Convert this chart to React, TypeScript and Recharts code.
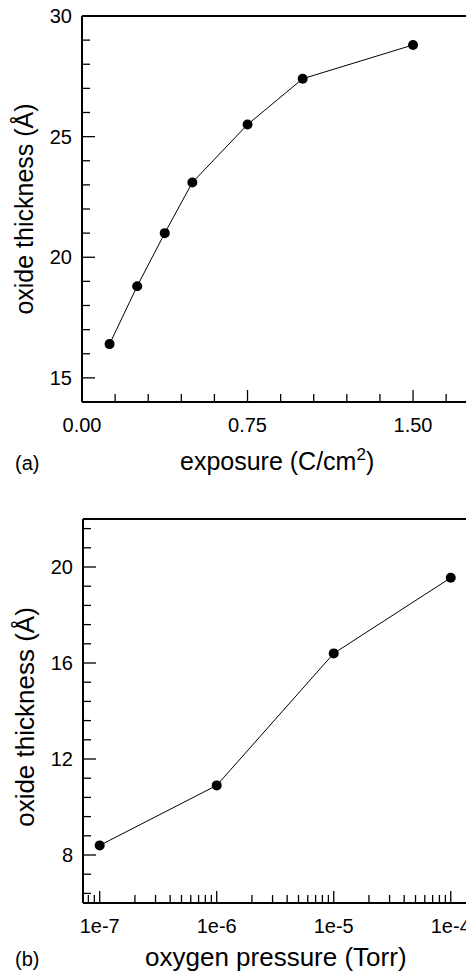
import React from 'react';
import { LineChart, Line, XAxis, YAxis, ReferenceLine } from 'recharts';

// Panel (a): oxide thickness vs exposure
const exposure = [0.125, 0.25, 0.375, 0.5, 0.75, 1.0, 1.5];
const thicknessA = [16.4, 18.8, 21.0, 23.1, 25.5, 27.4, 28.8];

// Panel (b): oxide thickness vs oxygen pressure
const pressure = [1e-7, 1e-6, 1e-5, 1e-4];
const thicknessB = [8.4, 10.9, 16.4, 19.55];

// Ticks panel (a)
const xTicksA = [0, 0.15, 0.3, 0.45, 0.6, 0.75, 0.9, 1.05, 1.2, 1.35, 1.5, 1.65];
const xMajorA = [0, 0.75, 1.5];
const xLabelsA = ['0.00', '0.75', '1.50'];
const yTicksA = [15, 16, 17, 18, 19, 20, 21, 22, 23, 24, 25, 26, 27, 28, 29, 30];
const yMajorA = [15, 20, 25, 30];
const yLabelsA = ['15', '20', '25', '30'];

// Ticks panel (b)
const xTicksB = [
  8e-8, 9e-8,
  1e-7, 2e-7, 3e-7, 4e-7, 5e-7, 6e-7, 7e-7, 8e-7, 9e-7,
  1e-6, 2e-6, 3e-6, 4e-6, 5e-6, 6e-6, 7e-6, 8e-6, 9e-6,
  1e-5, 2e-5, 3e-5, 4e-5, 5e-5, 6e-5, 7e-5, 8e-5, 9e-5,
  1e-4,
];
const xMajorB = [1e-7, 1e-6, 1e-5, 1e-4];
const xLabelsB = ['1e-7', '1e-6', '1e-5', '1e-4'];
const yTicksB = [6.4, 7.2, 8, 8.8, 9.6, 10.4, 11.2, 12, 12.8, 13.6, 14.4, 15.2, 16, 16.8, 17.6, 18.4, 19.2, 20, 20.8, 21.6];
const yMajorB = [8, 12, 16, 20];
const yLabelsB = ['8', '12', '16', '20'];

const dataA = exposure.map((x, i) => ({ x, y: thicknessA[i] }));
const dataB = pressure.map((x, i) => ({ x, y: thicknessB[i] }));

const FONT = '"Liberation Sans", Arial, Helvetica, sans-serif';

function findLabel(v: number, majors: number[], labels: string[]): string | null {
  for (let i = 0; i < majors.length; i++) {
    const m = majors[i];
    const same = m === 0 ? Math.abs(v) < 1e-9 : Math.abs(v / m - 1) < 1e-6;
    if (same) return labels[i];
  }
  return null;
}

const makeXTick = (majors: number[], labels: string[]) => (props: any) => {
  const { x, y, payload } = props;
  const lab = findLabel(payload.value, majors, labels);
  const len = lab !== null ? 12 : 8;
  return (
    <g>
      <line x1={x} y1={y} x2={x} y2={y - len} stroke="#000" strokeWidth={1.3} />
      {lab !== null && (
        <text x={x} y={y + 30} textAnchor="middle" fontSize={20} fontFamily={FONT} fill="#000">
          {lab}
        </text>
      )}
    </g>
  );
};

const makeYTick = (majors: number[], labels: string[]) => (props: any) => {
  const { x, y, payload } = props;
  const lab = findLabel(payload.value, majors, labels);
  const len = lab !== null ? 13 : 8;
  return (
    <g>
      <line x1={x} y1={y} x2={x + len} y2={y} stroke="#000" strokeWidth={1.3} />
      {lab !== null && (
        <text x={x - 10} y={y} dy="0.36em" textAnchor="end" fontSize={20} fontFamily={FONT} fill="#000">
          {lab}
        </text>
      )}
    </g>
  );
};

export default function App() {
  return (
    <div style={{ position: 'absolute', top: 0, left: 0, width: 466, height: 977, overflow: 'hidden', background: '#fff' }}>
      <div style={{ position: 'absolute', top: 0, left: 0 }}>
        <LineChart width={466} height={460} data={dataA} margin={{ top: 16, right: 0, left: 0, bottom: 0 }}>
          <XAxis
            dataKey="x"
            type="number"
            domain={[0, 1.74]}
            ticks={xTicksA}
            interval={0}
            height={58}
            tickSize={0}
            tickMargin={0}
            tickLine={false}
            axisLine={{ stroke: '#000', strokeWidth: 2 }}
            tick={makeXTick(xMajorA, xLabelsA)}
            allowDataOverflow
          />
          <YAxis
            dataKey="y"
            type="number"
            domain={[14, 30]}
            ticks={yTicksA}
            interval={0}
            width={82}
            tickSize={0}
            tickMargin={0}
            tickLine={false}
            axisLine={{ stroke: '#000', strokeWidth: 2 }}
            tick={makeYTick(yMajorA, yLabelsA)}
            allowDataOverflow
          />
          <ReferenceLine y={30} stroke="#000" strokeWidth={2} />
          <Line
            dataKey="y"
            stroke="#000"
            strokeWidth={1}
            dot={{ r: 5, fill: '#000', stroke: '#000', strokeWidth: 0 }}
            isAnimationActive={false}
          />
        </LineChart>
      </div>
      <div style={{ position: 'absolute', top: 503, left: 0 }}>
        <LineChart width={466} height={470} data={dataB} margin={{ top: 16, right: 0, left: 0, bottom: 0 }}>
          <XAxis
            dataKey="x"
            type="number"
            scale="log"
            domain={[7.2e-8, 1.35e-4]}
            ticks={xTicksB}
            interval={0}
            height={70}
            tickSize={0}
            tickMargin={0}
            tickLine={false}
            axisLine={{ stroke: '#000', strokeWidth: 2 }}
            tick={makeXTick(xMajorB, xLabelsB)}
            allowDataOverflow
          />
          <YAxis
            dataKey="y"
            type="number"
            domain={[6, 22]}
            ticks={yTicksB}
            interval={0}
            width={83}
            tickSize={0}
            tickMargin={0}
            tickLine={false}
            axisLine={{ stroke: '#000', strokeWidth: 2 }}
            tick={makeYTick(yMajorB, yLabelsB)}
            allowDataOverflow
          />
          <ReferenceLine y={22} stroke="#000" strokeWidth={2} />
          <Line
            dataKey="y"
            stroke="#000"
            strokeWidth={1}
            dot={{ r: 5, fill: '#000', stroke: '#000', strokeWidth: 0 }}
            isAnimationActive={false}
          />
        </LineChart>
      </div>
      <svg width={466} height={977} style={{ position: 'absolute', top: 0, left: 0, pointerEvents: 'none' }}>
        <text x={33} y={209} transform="rotate(-90 33 209)" textAnchor="middle" fontSize={25} fontFamily={FONT} fill="#000">
          oxide thickness (Å)
        </text>
        <text x={15} y={470} fontSize={20} fontFamily={FONT} fill="#000">(a)</text>
        <text x={180} y={470} fontSize={25} fontFamily={FONT} fill="#000">
          exposure (C/cm<tspan fontSize={17} dy={-10}>2</tspan><tspan dy={10}>)</tspan>
        </text>
        <text x={34} y={717} transform="rotate(-90 34 717)" textAnchor="middle" fontSize={26} fontFamily={FONT} fill="#000">
          oxide thickness (Å)
        </text>
        <text x={15} y={966} fontSize={20} fontFamily={FONT} fill="#000">(b)</text>
        <text x={145} y={966} fontSize={26} fontFamily={FONT} fill="#000">
          oxygen pressure (Torr)
        </text>
      </svg>
    </div>
  );
}
